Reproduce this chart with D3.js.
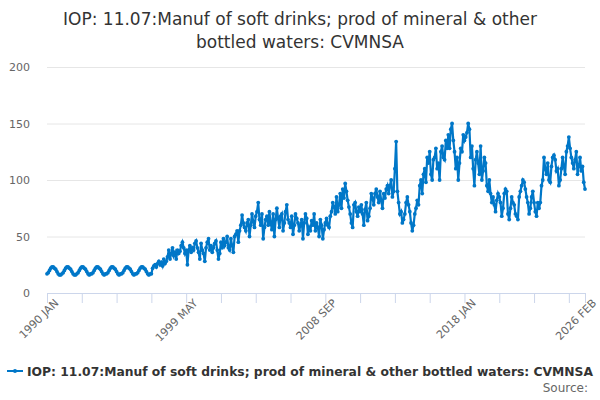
<!DOCTYPE html>
<html><head><meta charset="utf-8">
<script src="https://cdn.jsdelivr.net/npm/d3@7"></script>
<style>body{margin:0;background:#fff}text{font-family:"DejaVu Sans",sans-serif}</style>
</head><body><svg id="c" width="600" height="400"></svg>
<script>
var title=["IOP: 11.07:Manuf of soft drinks; prod of mineral & other","bottled waters: CVMNSA"];
var seriesName="IOP: 11.07:Manuf of soft drinks; prod of mineral & other bottled waters: CVMNSA";
var startYear=1990;
var values=[
17,18,20,22,23,23,22,21,19,17,16,16,
17,18,20,22,23,23,22,21,19,17,16,16,
17,18,20,22,23,23,22,21,19,17,16,17,
17,18,20,22,23,23,22,21,19,17,16,17,
17,18,20,22,23,23,22,21,19,17,16,17,
17,18,20,22,23,23,22,21,19,17,16,17,
17,18,20,22,23,23,22,21,19,17,16,17,
17,22,24,25,23,26,28,25,27,24,30,26,
28,32,38,30,35,40,33,36,30,38,35,37,
42,45,40,35,38,25,38,42,36,40,38,44,
46,40,36,30,44,38,35,28,40,45,48,38,
42,36,40,44,46,38,30,35,45,40,48,42,
45,50,40,38,48,42,36,50,52,55,45,55,
60,69,62,58,55,62,65,50,60,70,63,58,
68,72,80,65,60,70,48,58,65,68,60,72,
62,56,70,50,65,75,66,58,68,70,55,62,
72,78,65,62,58,68,52,60,70,66,62,55,
60,65,48,62,70,66,52,58,55,64,60,70,
55,62,58,50,65,60,48,56,62,66,60,58,
68,72,80,76,70,85,72,78,88,75,92,84,
97,90,82,76,70,62,58,78,80,72,68,76,
72,78,70,60,74,80,64,68,75,88,84,78,
88,92,85,80,90,82,75,88,84,92,95,88,
95,100,85,90,110,134,90,80,70,72,62,65,
70,80,85,78,72,62,55,60,70,75,82,78,
95,100,88,105,110,98,120,115,125,105,100,118,
120,128,110,115,100,125,130,120,118,135,128,140,
128,145,150,135,125,110,120,100,115,128,125,140,
135,138,142,150,145,120,130,110,95,118,125,115,
105,130,100,108,120,115,95,90,100,88,80,85,
78,72,82,88,85,80,68,75,88,92,90,70,
65,75,85,80,78,70,68,65,85,90,95,100,
98,92,85,80,70,75,85,90,80,72,68,80,
75,80,95,100,120,110,105,115,100,98,112,120,
122,118,108,110,95,100,110,120,112,105,125,130,
138,128,120,115,110,118,125,105,112,120,108,112,
98,92];
var yTicks=[0,50,100,150,200];
var months=["JAN","FEB","MAR","APR","MAY","JUN","JUL","AUG","SEP","OCT","NOV","DEC"];
var color="#0077c8";

var svg=d3.select("#c");
var x=d3.scaleLinear().domain([0,values.length-1]).range([47,585]);
var y=d3.scaleLinear().domain([0,200]).range([293,67]);

svg.selectAll(".t").data(title).enter().append("text")
  .attr("x",300).attr("y",function(d,i){return 25+i*23;})
  .attr("text-anchor","middle").attr("font-size",17).attr("fill","#333").text(function(d){return d;});

var ya=svg.append("g").attr("transform","translate(47,0)")
  .call(d3.axisLeft(y).tickValues(yTicks).tickSize(-538).tickPadding(17));
ya.select(".domain").remove();
ya.selectAll("line").attr("stroke","#e6e6e6");
ya.selectAll("text").attr("fill","#666").attr("font-size",11);

var xt=d3.range(0,values.length,28).concat([values.length-1]);
var xa=svg.append("g").attr("transform","translate(0,293)")
  .call(d3.axisBottom(x).tickValues(xt).tickSize(10).tickFormat(function(i){
    if(i%112!==0&&i!==values.length-1)return "";
    return (startYear+Math.floor(i/12))+" "+months[i%12];}));
xa.selectAll("line,path").attr("stroke","#ccd6eb");
xa.selectAll("text").attr("fill","#666").attr("font-size",11)
  .attr("text-anchor","end").attr("transform","translate(-3,-4) rotate(-45)");

svg.append("path").datum(values).attr("fill","none").attr("stroke",color).attr("stroke-width",2.2)
  .attr("d",d3.line().x(function(d,i){return x(i);}).y(function(d){return y(d);}));
svg.selectAll(".p").data(values).enter().append("circle")
  .attr("cx",function(d,i){return x(i);}).attr("cy",function(d){return y(d);})
  .attr("r",1.9).attr("fill",color);

var lg=svg.append("g").attr("transform","translate(7,371)");
lg.append("line").attr("x1",0).attr("x2",16).attr("stroke",color).attr("stroke-width",2);
lg.append("circle").attr("cx",8).attr("r",2).attr("fill",color);
lg.append("text").attr("x",20).attr("y",4.5).attr("font-size",12).attr("font-weight","bold")
  .attr("textLength",566).attr("lengthAdjust","spacingAndGlyphs")
  .attr("fill","#333").text(seriesName);
svg.append("text").attr("x",588).attr("y",392).attr("text-anchor","end")
  .attr("font-size",12).attr("fill","#666").text("Source:");
</script></body></html>
